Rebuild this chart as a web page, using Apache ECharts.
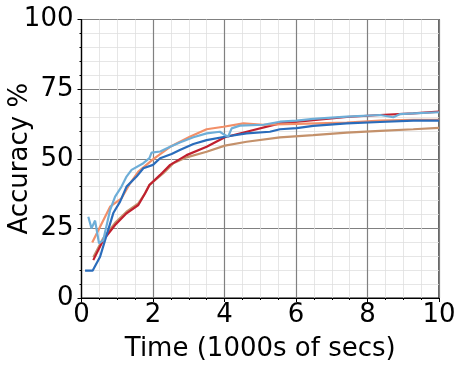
<!DOCTYPE html>
<html><head><meta charset="utf-8">
<script src="https://cdn.jsdelivr.net/npm/echarts@6/dist/echarts.min.js"></script>
<style>html,body{margin:0;padding:0;background:#fff}#c{width:466px;height:370px}</style>
</head><body><div id="c"></div>
<script>
// Time (1000s of secs) , Accuracy %
const tanSeries = [[0.33,14.6],[0.61,21.5],[0.94,27],[1.26,31],[1.59,34],[1.75,37],[1.9,40.6],[2.29,44.8],[2.57,48.4],[2.94,50.5],[3.5,52.5],[4.01,54.7],[4.62,56.1],[5.55,57.7],[6.48,58.5],[7.42,59.4],[8.35,60],[9.28,60.6],[10,61.1]];
const redSeries = [[0.33,13.6],[0.61,20.8],[0.94,26.2],[1.26,30.4],[1.59,33.4],[1.78,37.6],[1.9,40.6],[2.2,44.2],[2.48,47.8],[2.94,51.3],[3.5,54.3],[4.01,57.7],[4.62,59.7],[5.55,62.7],[6.48,63.9],[7.42,65],[8.35,65.7],[9.28,66.3],[10,66.9]];
const salmonSeries = [[0.3,19.9],[0.52,25.6],[0.8,32.8],[1.12,35.8],[1.36,41.2],[1.59,45.4],[2.0,49.8],[2.48,54.3],[3.03,57.9],[3.5,60.6],[3.97,61.5],[4.53,62.7],[5.09,62.2],[6.02,62.5],[7.42,63],[8.35,63.7],[9.28,64],[10,64]];
const darkBlueSeries = [[0.1,9.8],[0.31,9.8],[0.52,14.8],[0.66,20.8],[0.89,30.5],[1.08,34.6],[1.26,40],[1.54,43.6],[1.73,46.6],[2.0,47.8],[2.2,50.2],[2.52,51.7],[2.75,53.1],[3.13,55.3],[3.5,56.7],[4.01,57.9],[4.62,59.1],[5.27,59.7],[5.55,60.6],[6.02,61],[6.48,61.8],[7.42,62.7],[8.35,63.2],[9.28,63.7],[10,63.7]];
const lightBlueSeries = [[0.19,29.2],[0.28,25],[0.38,27.8],[0.49,19.6],[0.61,20.8],[0.8,31.6],[0.94,36.4],[1.12,40],[1.26,43.6],[1.4,46],[1.73,48.4],[1.9,50.2],[1.96,52.2],[2.2,52.6],[2.48,54.3],[2.75,55.8],[3.13,57.7],[3.5,59.1],[3.87,59.7],[4.01,58.5],[4.1,57.9],[4.2,60.9],[4.43,61.9],[5.09,62.2],[5.55,63.3],[6.02,63.7],[6.48,64.3],[7.42,65.1],[8.35,65.7],[8.72,64.9],[8.9,66],[9.28,66.3],[10,66.7]];
const xTicks = [0,2,4,6,8,10];
const yTicks = [0,25,50,75,100];

const font = 'DejaVu Sans';
const chart = echarts.init(document.getElementById('c'), null, {renderer:'canvas'});
function ser(data, color){
  return {type:'line', data:data, showSymbol:false, symbol:'none',
    lineStyle:{color:color, width:2.2}, itemStyle:{color:color}, animation:false};
}
chart.setOption({
  animation:false,
  grid:{left:81.5, right:27, top:19.5, bottom:72, containLabel:false, outerBoundsMode:'none',
    show:true, borderColor:'#000', borderWidth:1.2},
  xAxis:{type:'value', min:0, max:10, interval:2,
    name:'Time (1000s of secs)', nameLocation:'middle', nameGap:38,
    nameTextStyle:{fontFamily:font, fontSize:26, color:'#000'},
    axisLine:{show:true, lineStyle:{color:'#000', width:1.2}},
    axisTick:{show:true, length:4, lineStyle:{color:'#000'}},
    minorTick:{show:true, splitNumber:4, length:2, lineStyle:{color:'#000'}},
    axisLabel:{fontFamily:font, fontSize:26, color:'#000', margin:4},
    splitLine:{show:true, lineStyle:{color:'#808080', width:1.2}},
    minorSplitLine:{show:true, lineStyle:{color:'#e0e0e0', width:0.8}}
  },
  yAxis:[{type:'value', min:0, max:100, interval:25,
    axisLine:{show:true, lineStyle:{color:'#000', width:1.2}},
    axisTick:{show:true, length:4, lineStyle:{color:'#000'}},
    minorTick:{show:true, splitNumber:5, length:2, lineStyle:{color:'#000'}},
    axisLabel:{fontFamily:font, fontSize:26, color:'#000', margin:8},
    splitLine:{show:true, lineStyle:{color:'#808080', width:1.2}},
    minorSplitLine:{show:true, lineStyle:{color:'#e0e0e0', width:0.8}}
  },{type:'value', min:0, max:100, position:'left', offset:0,
    name:'Accuracy %', nameLocation:'middle', nameGap:48,
    nameTextStyle:{fontFamily:font, fontSize:26, color:'#000'},
    axisLine:{show:false}, axisTick:{show:false}, axisLabel:{show:false},
    splitLine:{show:false}
  }],
  series:[
    ser(tanSeries,'#c4916b'),
    ser(redSeries,'#c0202f'),
    ser(salmonSeries,'#f28f68'),
    ser(darkBlueSeries,'#2a6cbb'),
    ser(lightBlueSeries,'#6eaed8')
  ]
});
</script></body></html>
